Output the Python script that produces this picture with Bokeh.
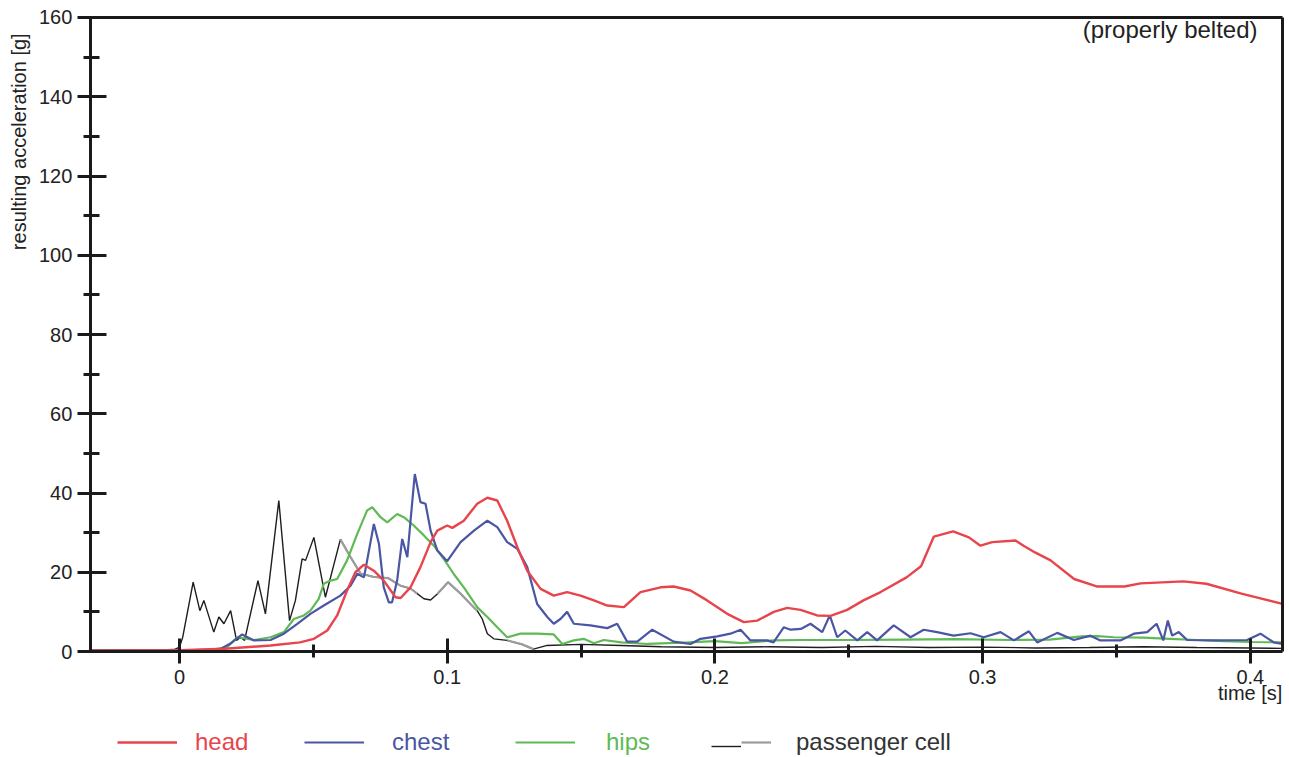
import math
from bokeh.plotting import figure
from bokeh.models import Range1d, FixedTicker, Label, Legend, LegendItem, LinearAxis
from bokeh.embed import file_html
from bokeh.resources import INLINE

# ---------------- data (time in s, resulting acceleration in g) ----------------
head_t = [-0.0333, 0.000, 0.017, 0.034, 0.045, 0.0502, 0.0552, 0.0589, 0.0626, 0.0657,
          0.0689, 0.0726, 0.0763, 0.0807, 0.0826, 0.0863, 0.0900, 0.0938, 0.0963, 0.1000,
          0.1019, 0.1062, 0.1112, 0.1150, 0.1187, 0.1224, 0.1262, 0.1299, 0.1349, 0.1398,
          0.1448, 0.1498, 0.1548, 0.1598, 0.1660, 0.1722, 0.1797, 0.1846, 0.1909, 0.1971,
          0.2046, 0.2108, 0.2158, 0.2220, 0.2270, 0.2320, 0.2382, 0.2432, 0.2494, 0.2555,
          0.2619, 0.2716, 0.2770, 0.2818, 0.2890, 0.2949, 0.2992, 0.3036, 0.3123, 0.3153,
          0.3196, 0.3254, 0.3342, 0.3429, 0.3530, 0.3590, 0.3750, 0.3836, 0.3967, 0.4120]
head_g = [0.2, 0.3, 0.7, 1.5, 2.3, 3.2, 5.3, 9.1, 15.4, 20.0,
          21.9, 20.4, 17.9, 13.7, 13.5, 16.2, 21.3, 27.6, 30.5, 31.8,
          31.2, 33.0, 37.3, 38.8, 38.1, 33.0, 26.3, 20.4, 15.8, 14.1,
          15.0, 14.1, 12.9, 11.6, 11.2, 15.0, 16.2, 16.4, 15.4, 12.9,
          9.5, 7.4, 7.8, 10.0, 11.0, 10.5, 9.1, 9.0, 10.5, 12.9,
          15.0, 18.7, 21.5, 29.0, 30.3, 28.8, 26.7, 27.6, 28.0, 26.7,
          25.0, 23.0, 18.3, 16.4, 16.4, 17.2, 17.7, 17.1, 14.6, 12.0]

chest_t = [-0.0333, 0.0, 0.015, 0.019, 0.0234, 0.0278, 0.034, 0.039, 0.044, 0.0489,
           0.0539, 0.0601, 0.0639, 0.0664, 0.0689, 0.0701, 0.0726, 0.0745, 0.0763, 0.0782,
           0.0794, 0.0813, 0.0832, 0.0851, 0.0863, 0.0879, 0.0900, 0.0919, 0.0938, 0.0963,
           0.1000, 0.1050, 0.1100, 0.1150, 0.1187, 0.1224, 0.1262, 0.1299, 0.1336, 0.1374,
           0.1398, 0.1423, 0.1448, 0.1473, 0.1535, 0.1598, 0.1635, 0.1672, 0.1710, 0.1766,
           0.1846, 0.1909, 0.1946, 0.2009, 0.2058, 0.2096, 0.2133, 0.2195, 0.2219, 0.2257,
           0.2283, 0.2321, 0.2357, 0.2401, 0.2429, 0.2457, 0.2487, 0.2532, 0.2569, 0.2606,
           0.2668, 0.2731, 0.2780, 0.2830, 0.2892, 0.2955, 0.3004, 0.3067, 0.3117, 0.3173,
           0.3204, 0.3279, 0.3341, 0.3403, 0.3440, 0.3515, 0.3565, 0.3615, 0.3650, 0.3675,
           0.3692, 0.3708, 0.3733, 0.3764, 0.3864, 0.3988, 0.4038, 0.4088, 0.4120]
chest_g = [0.2, 0.3, 0.5, 2.0, 4.3, 2.8, 2.9, 4.5, 7.0, 9.5,
           11.6, 14.1, 16.6, 19.6, 18.7, 23.0, 32.2, 27.2, 16.2, 12.4,
           12.4, 17.9, 28.4, 23.8, 33.0, 44.8, 37.7, 37.3, 30.5, 25.5,
           22.8, 27.6, 30.5, 33.0, 31.4, 27.6, 25.9, 21.3, 12.0, 8.7,
           7.0, 8.2, 10.0, 7.0, 6.6, 5.9, 7.0, 2.5, 2.5, 5.5,
           2.5, 1.9, 3.2, 3.8, 4.5, 5.5, 2.8, 2.8, 2.3, 6.1,
           5.5, 5.7, 7.0, 4.9, 9.1, 3.6, 5.3, 2.8, 4.9, 2.8,
           6.6, 3.6, 5.5, 4.9, 4.0, 4.6, 3.6, 4.9, 2.8, 5.1,
           2.3, 4.7, 2.9, 4.0, 2.8, 2.8, 4.5, 4.9, 7.0, 2.8,
           7.8, 4.0, 4.9, 2.9, 2.8, 2.9, 4.5, 2.3, 1.9]

hips_t = [-0.0333, 0.0, 0.012, 0.0178, 0.0216, 0.0278, 0.034, 0.039, 0.0427, 0.0464,
          0.0489, 0.0520, 0.0539, 0.0564, 0.0589, 0.0626, 0.0664, 0.0701, 0.0720, 0.0751,
          0.0776, 0.0813, 0.0838, 0.0875, 0.0913, 0.0950, 0.0987, 0.1025, 0.1062, 0.1112,
          0.1150, 0.1187, 0.1224, 0.1274, 0.1336, 0.1398, 0.1430, 0.1473, 0.1510, 0.1548,
          0.1585, 0.165, 0.175, 0.19, 0.20, 0.21, 0.222, 0.232, 0.25, 0.27,
          0.29, 0.31, 0.325, 0.337, 0.343, 0.349, 0.36, 0.37, 0.38, 0.39,
          0.40, 0.412]
hips_g = [0.2, 0.3, 0.4, 1.1, 3.6, 2.9, 3.6, 4.9, 8.2, 9.1,
          10.3, 13.3, 17.1, 17.9, 18.3, 23.0, 29.7, 35.6, 36.4, 33.9,
          32.6, 34.7, 33.9, 31.8, 29.3, 26.7, 23.4, 19.5, 16.2, 11.2,
          8.7, 6.1, 3.6, 4.5, 4.5, 4.3, 1.9, 2.8, 3.2, 2.1,
          2.9, 2.3, 1.9, 2.3, 2.6, 2.1, 2.8, 2.9, 2.9, 3.0,
          3.1, 2.9, 3.0, 3.8, 3.9, 3.6, 3.5, 3.2, 2.9, 2.6,
          2.4, 2.3]

cell_t = [-0.0333, -0.020, -0.010, -0.002, 0.000, 0.0012, 0.0051, 0.0076, 0.0091, 0.0128,
          0.0147, 0.0166, 0.0191, 0.0213, 0.0228, 0.0243, 0.0293, 0.0321, 0.0371, 0.0411,
          0.0433, 0.0458, 0.0471, 0.0502, 0.0533, 0.0545, 0.0601, 0.0639, 0.0676, 0.0726,
          0.0780, 0.0826, 0.0863, 0.0888, 0.0913, 0.0938, 0.0963, 0.1003, 0.1050, 0.1087,
          0.1112, 0.1131, 0.1150, 0.1174, 0.1224, 0.1280, 0.1322, 0.1370, 0.1500, 0.1650,
          0.1800, 0.2000, 0.2200, 0.2400, 0.2600, 0.2800, 0.3000, 0.3200, 0.3400, 0.3600,
          0.3800, 0.4000, 0.4120]
cell_g = [0.3, 0.4, 0.3, 0.5, 1.1, 3.6, 17.5, 10.3, 12.9, 4.9,
          8.7, 7.0, 10.3, 2.8, 3.6, 2.8, 17.9, 9.5, 38.1, 7.8,
          12.9, 23.4, 23.0, 28.8, 17.9, 13.7, 28.3, 23.8, 19.7, 18.8,
          18.5, 16.6, 15.9, 14.6, 13.3, 13.0, 14.5, 17.5, 14.6, 12.0,
          10.3, 8.2, 4.5, 3.2, 2.8, 1.8, 0.6, 1.5, 1.8, 1.5,
          1.2, 1.0, 1.2, 1.0, 1.3, 1.0, 1.1, 0.9, 1.0, 1.2,
          1.0, 0.9, 0.8]
# parts of the passenger-cell trace that are printed in grey (index spans)
cell_grey_spans = [(26, 34), (36, 41), (44, 47)]

x_ticks = [0.0, 0.1, 0.2, 0.3, 0.4]
x_tick_labels = ["0", "0.1", "0.2", "0.3", "0.4"]
x_minor = [0.05, 0.15, 0.25, 0.35]
y_ticks = [0, 20, 40, 60, 80, 100, 120, 140, 160]
y_minor = [10, 30, 50, 70, 90, 110, 130, 150]
t_min, t_max = -0.0333, 0.4120          # extent of the plotted box
g_min, g_max = 0, 160

series_names = ["head", "chest", "hips", "passenger cell"]
C_HEAD, C_CHEST, C_HIPS = "#e8444c", "#4a56a3", "#5fba55"
C_CELL, C_CELL_GREY = "#1e1e1e", "#9c9c9c"
FONT = "Liberation Sans"
INK = "#1a1a1a"

W, H = 1289, 757
# the frame covers the whole canvas; the box axes sit at fixed data locations
p = figure(width=W, height=H, output_backend="svg", toolbar_location=None,
           x_range=Range1d(-0.06687, 0.41465), y_range=Range1d(-26.75, 164.29),
           min_border=0)
p.grid.visible = False
p.background_fill_color = "white"
p.border_fill_color = "white"
p.outline_line_color = None

xa = p.xaxis[0]
xa.fixed_location = g_min
xa.bounds = (t_min, t_max)
xa.ticker = FixedTicker(ticks=x_ticks, minor_ticks=x_minor)
xa.major_label_overrides = dict(zip(x_ticks, x_tick_labels))
xa.major_tick_in, xa.major_tick_out = 13, 12
xa.minor_tick_in, xa.minor_tick_out = 7, 6
xa.major_label_standoff = 6

ya = p.yaxis[0]
ya.fixed_location = t_min
ya.bounds = (g_min, g_max)
ya.ticker = FixedTicker(ticks=y_ticks, minor_ticks=y_minor)
ya.major_tick_in, ya.major_tick_out = 16, 13
ya.minor_tick_in, ya.minor_tick_out = 9, 7
ya.major_label_standoff = 5

top_ax = LinearAxis(fixed_location=g_max, bounds=(t_min, t_max), ticker=FixedTicker(ticks=[]))
right_ax = LinearAxis(fixed_location=t_max, bounds=(g_min, g_max), ticker=FixedTicker(ticks=[]))
p.add_layout(top_ax, "above")
p.add_layout(right_ax, "right")

for ax in (xa, ya, top_ax, right_ax):
    ax.axis_line_color = INK
    ax.axis_line_width = 3
    ax.major_tick_line_color = INK
    ax.major_tick_line_width = 3
    ax.minor_tick_line_color = INK
    ax.minor_tick_line_width = 3
    ax.major_label_text_font = FONT
    ax.major_label_text_font_size = "20px"
    ax.major_label_text_color = "#222222"

# ---------------- curves ----------------
r_cell = p.line(cell_t, cell_g, line_color=C_CELL, line_width=1.4)
r_grey = p.multi_line([cell_t[a:b] for a, b in cell_grey_spans],
                      [cell_g[a:b] for a, b in cell_grey_spans],
                      line_color=C_CELL_GREY, line_width=2.2)
r_hips = p.line(hips_t, hips_g, line_color=C_HIPS, line_width=2.2)
r_chest = p.line(chest_t, chest_g, line_color=C_CHEST, line_width=2.2)
r_head = p.line(head_t, head_g, line_color=C_HEAD, line_width=2.4)

# ---------------- texts ----------------
p.add_layout(Label(x=0.4027, y=157.0, text="(properly belted)", text_align="right",
                   text_baseline="middle", text_font=FONT, text_font_size="24px",
                   text_color="#222222"))
p.add_layout(Label(x=-0.0598, y=156.0, text="resulting acceleration [g]", angle=math.pi / 2,
                   text_align="right", text_baseline="middle", text_font=FONT,
                   text_font_size="20px", text_color="#222222"))
p.add_layout(Label(x=t_max, y=-10.4, text="time [s]",
                   text_align="right", text_baseline="middle", text_font=FONT,
                   text_font_size="20px", text_color="#222222"))

# ---------------- legend (one per entry so each label keeps its colour) ----------------
LEG_Y = 1


def add_legend(renderer, label, color, x, standoff, glyph_width=60):
    leg = Legend(items=[LegendItem(label=label, renderers=[renderer])],
                 location=(x, LEG_Y), orientation="horizontal",
                 border_line_color=None, background_fill_alpha=0,
                 label_text_font=FONT, label_text_font_size="24px",
                 label_text_color=color, glyph_width=glyph_width, glyph_height=20,
                 label_standoff=standoff, padding=0, margin=0, spacing=0,
                 label_height=20)
    p.add_layout(leg)


add_legend(r_head, series_names[0], C_HEAD, 117, 18)
add_legend(r_chest, series_names[1], C_CHEST, 304, 28)
add_legend(r_hips, series_names[2], C_HIPS, 515, 31)
add_legend(r_cell, "", "#333333", 711, 0, glyph_width=30)
add_legend(r_grey, series_names[3], "#333333", 741, 25, glyph_width=30)

open("out.html", "w").write(file_html(p, INLINE))
